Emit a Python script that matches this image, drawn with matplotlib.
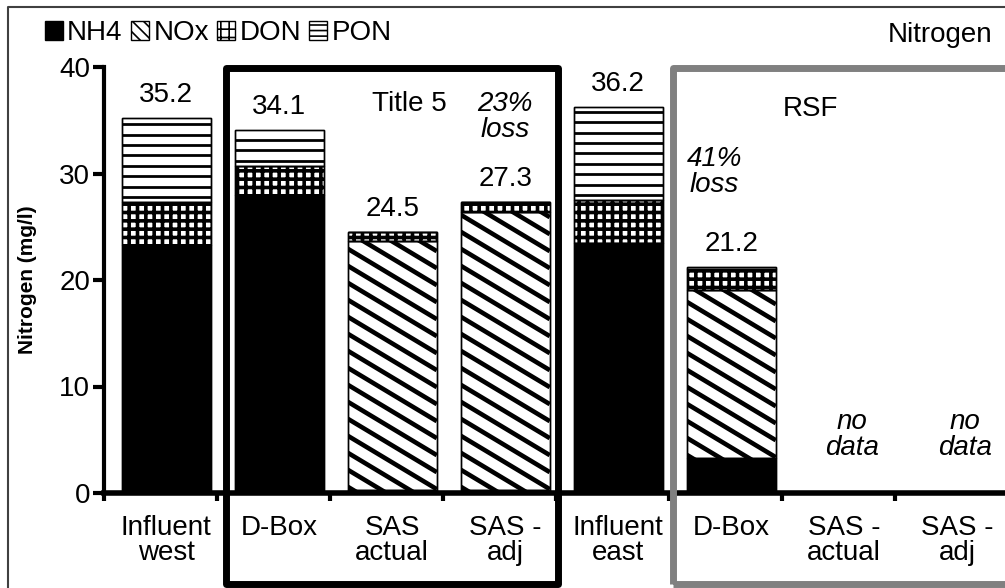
import numpy as np
import matplotlib
matplotlib.use('Agg')
import matplotlib.pyplot as plt
from matplotlib.patches import Rectangle, Patch

plt.rcParams['font.family'] = ['Liberation Sans', 'DejaVu Sans']
plt.rcParams['hatch.linewidth'] = 2.6

categories = ['Influent\nwest', 'D-Box', 'SAS\nactual', 'SAS -\nadj',
              'Influent\neast', 'D-Box', 'SAS -\nactual', 'SAS -\nadj']
nh4 = [23.3, 28.0, 0.3, 0.3, 23.5, 3.3, 0, 0]
nox = [0.0, 0.0, 23.4, 26.1, 0.0, 15.8, 0, 0]
don = [4.0, 2.7, 0.8, 0.9, 4.0, 1.9, 0, 0]
pon = [7.9, 3.4, 0.0, 0.0, 8.7, 0.2, 0, 0]
totals = ['35.2', '34.1', '24.5', '27.3', '36.2', '21.2', None, None]
series = ['NH4', 'NOx', 'DON', 'PON']
hatches = [None, '\\\\\\', '++', '---']

W, H = 1005, 588
fig = plt.figure(figsize=(W / 100, H / 100), dpi=100)
ax = fig.add_axes([104 / W, (H - 493) / H, (1008 - 104) / W, (493 - 67) / H])
ax.set_ylim(0, 40)
ax.set_xlim(-0.5, len(categories) - 0.5)

# pixel -> data scale, used for the hand-made stripe patterns
px_x = 1.0 / 113
px_y = 40.0 / 426


def stripes(rect, kind):
    x0, y0 = rect.get_x(), rect.get_y()
    w, h = rect.get_width(), rect.get_height()
    if h <= 0:
        return
    if kind == 'diag':
        m = -0.6 * px_y / px_x
        step = 17 * px_y
        xs = np.array([x0, x0 + w])
        for c in np.arange(y0 + 0.3, y0 + h - m * w + step, step):
            ln, = ax.plot(xs, c + m * (xs - x0), color='black', lw=3.3,
                          solid_capstyle='butt', zorder=2.5)
            ln.set_clip_path(rect)
    else:
        step = 10.4 * px_y
        for c in np.arange(y0 + step * 0.5, y0 + h, step):
            ln, = ax.plot([x0, x0 + w], [c, c], color='black', lw=2.0,
                          solid_capstyle='butt', zorder=2.5)
            ln.set_clip_path(rect)


x = np.arange(len(categories))
bottom = np.zeros(len(categories))
handles = []
for name, vals, h in zip(series, [nh4, nox, don, pon], hatches):
    vals = np.array(vals)
    fc = 'black' if h is None else 'white'
    bh = h if h == '++' else None
    bars = ax.bar(x + 0.05, vals, 0.79, bottom=bottom, color=fc, edgecolor='black',
                  hatch=bh, linewidth=1.0, zorder=2)
    if name == 'NOx':
        for r in bars:
            stripes(r, 'diag')
    if name == 'PON':
        for r in bars:
            stripes(r, 'horiz')
    ax.bar(x + 0.05, vals, 0.79, bottom=bottom, fill=False, edgecolor='black',
           linewidth=1.0, zorder=3)
    handles.append(Patch(facecolor=fc, edgecolor='black', hatch=h, label=name, linewidth=1))
    bottom += vals

for i, t in enumerate(totals):
    if t is not None:
        ax.text(x[i] + 0.05, bottom[i] + 1.5, t, ha='center', va='baseline', fontsize=20)

ax.set_yticks([0, 10, 20, 30, 40])
ax.tick_params(axis='y', labelsize=20, width=3, length=8, direction='out', pad=2)
ax.set_xticks(np.arange(-0.5, len(categories), 1.0))
ax.set_xticklabels([])
ax.tick_params(axis='x', which='major', width=3, length=6, direction='out')
ax.set_xticks(x + 0.05, minor=True)
ax.set_xticklabels(categories, minor=True, fontsize=20, linespacing=0.95)
ax.tick_params(axis='x', which='minor', length=0, pad=16)
ax.spines['top'].set_visible(False)
ax.spines['right'].set_visible(False)
ax.spines['left'].set_linewidth(3)
ax.spines['bottom'].set_linewidth(4)
ax.spines['bottom'].set_zorder(4)
ax.set_ylabel('Nitrogen (mg/l)', fontsize=15, fontweight='bold', labelpad=16)

ax.text(2.2, 36.5, 'Title 5', ha='center', va='center', fontsize=20)
ax.text(3.05, 35.3, '23%\nloss', ha='center', va='center', fontsize=20,
        style='italic', linespacing=1.0)
ax.text(5.75, 36.1, 'RSF', ha='center', va='center', fontsize=20)
ax.text(4.9, 30.1, '41%\nloss', ha='center', va='center', fontsize=20,
        style='italic', linespacing=1.0)
for xi in [6.12, 7.12]:
    ax.text(xi, 5.4, 'no\ndata', ha='center', va='center', fontsize=20,
            style='italic', linespacing=1.0)

with plt.rc_context({'hatch.linewidth': 1.2}):
    leg = fig.legend(handles=handles, loc='center left', bbox_to_anchor=(45 / W, (H - 33) / H),
                     ncol=4, frameon=False, fontsize=20, handlelength=0.65, handleheight=0.65,
                     handletextpad=0.15, columnspacing=0.3, borderaxespad=0, borderpad=0)

# group boxes and outer frame, in pixel coords
def box(x0, y0, x1, y1, color, lw):
    fig.patches.append(Rectangle((x0 / W, (H - y1) / H), (x1 - x0) / W, (y1 - y0) / H,
                                 transform=fig.transFigure, fill=False, edgecolor=color,
                                 linewidth=lw, joinstyle='round', zorder=5))

box(226, 68, 558, 584, 'black', 5)
box(673, 68, 1015, 584, '#808080', 5)
box(8, 7, 1015, 600, '#404040', 1.5)

fig.text(940 / W, (H - 35) / H, 'Nitrogen', ha='center', va='center', fontsize=20)

plt.savefig('out.png', dpi=100)
